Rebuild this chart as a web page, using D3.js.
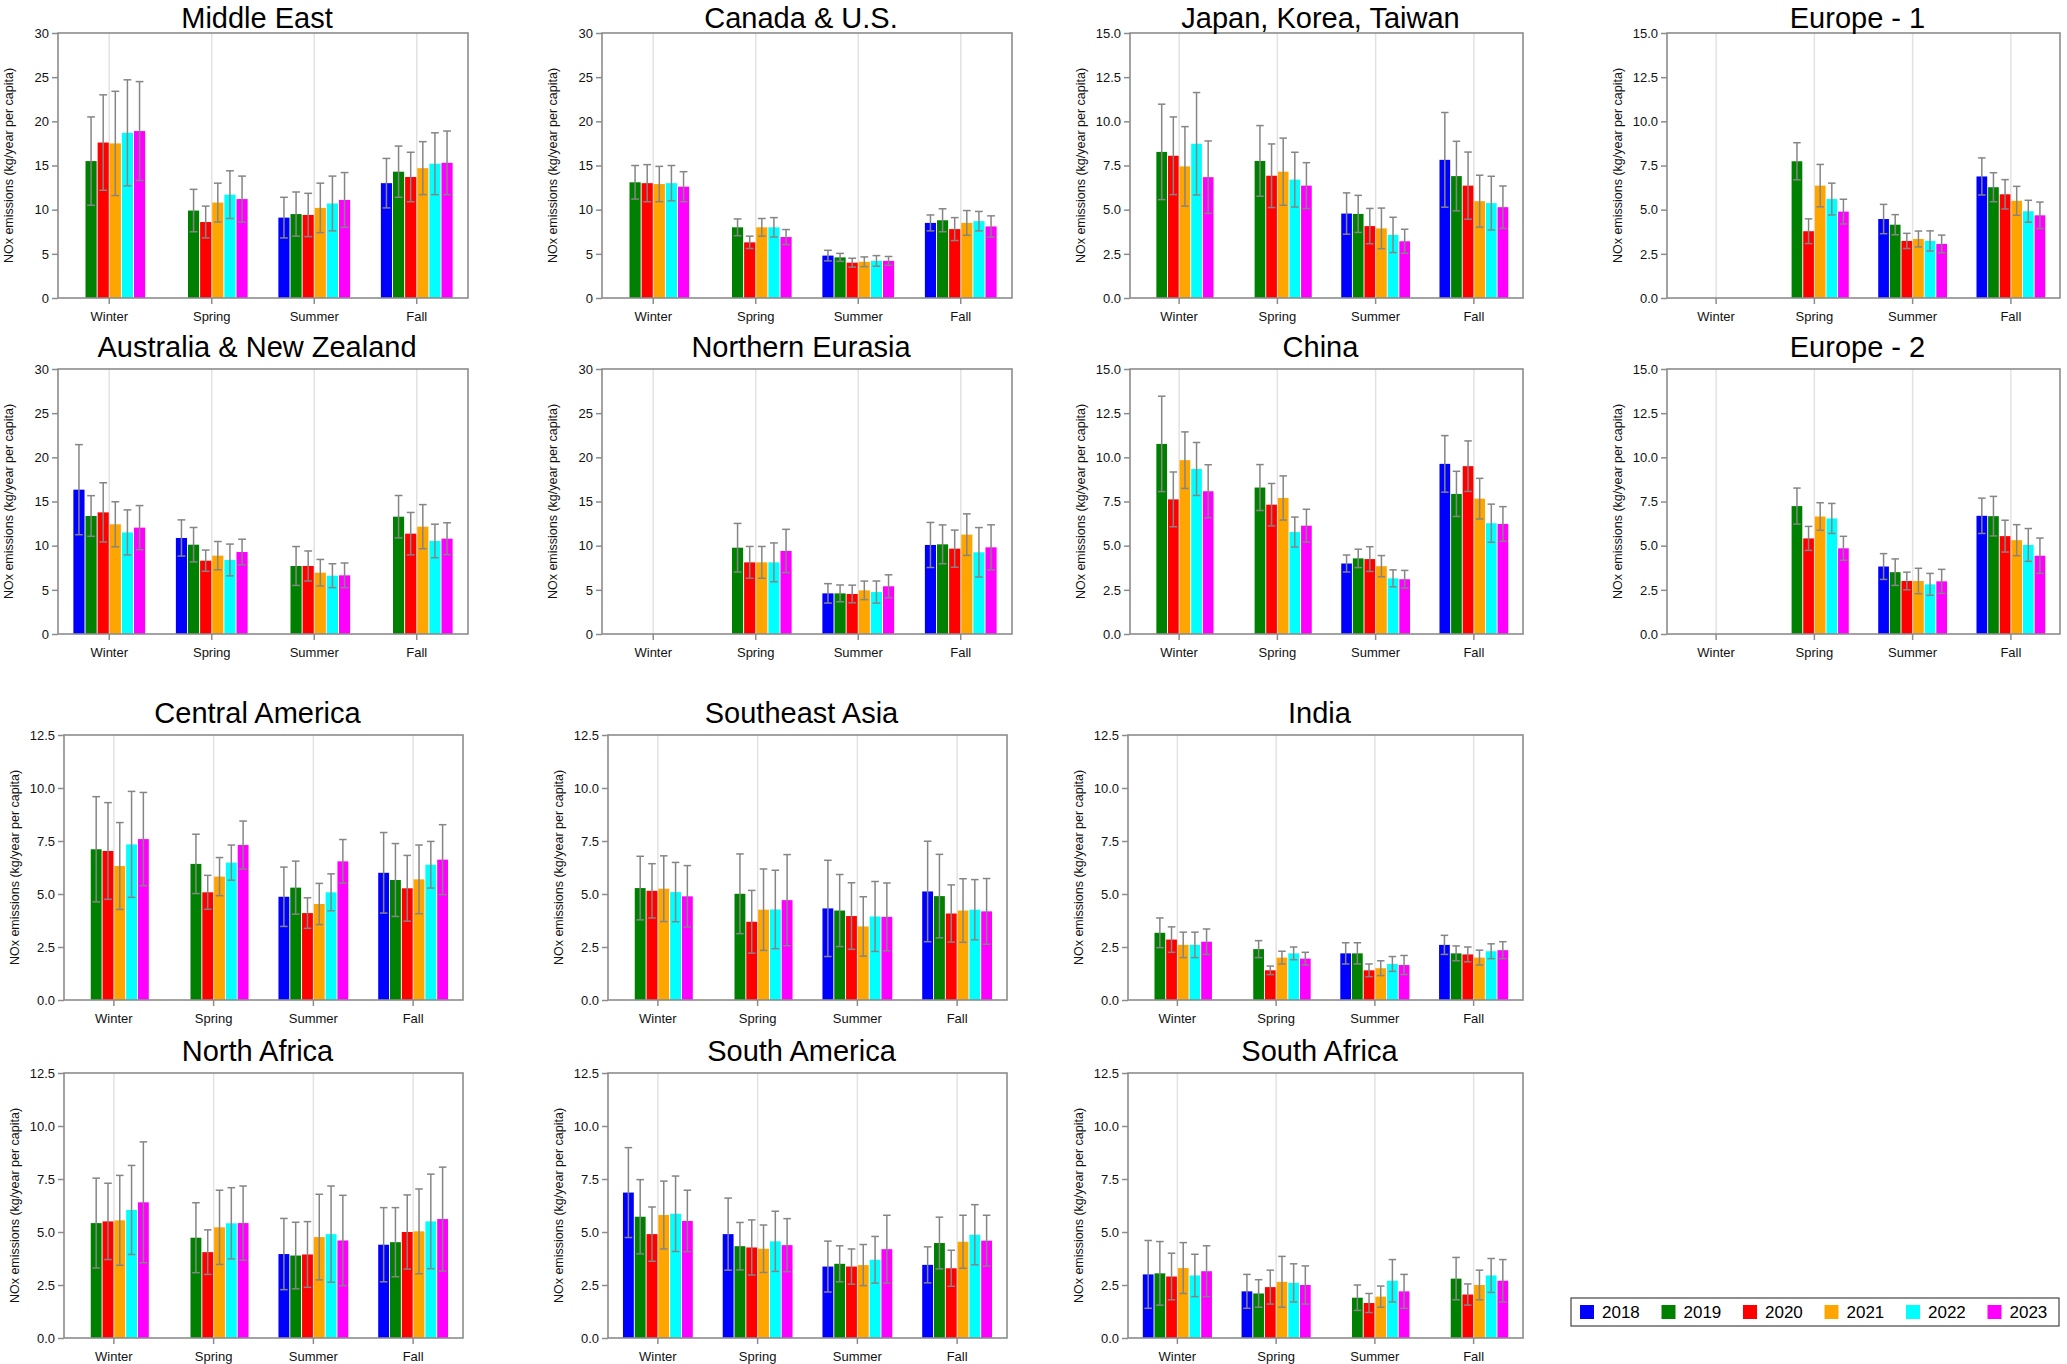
<!DOCTYPE html>
<html>
<head>
<meta charset="utf-8">
<script src="https://cdn.jsdelivr.net/npm/d3@7"></script>
<style>
body { margin: 0; background: #fff; }
svg { display: block; }
</style>
</head>
<body>
<svg width="2067" height="1364"></svg>
<script>
// categories
var years = ["2018", "2019", "2020", "2021", "2022", "2023"];
var seasons = ["Winter", "Spring", "Summer", "Fall"];
var yearColors = ["#0000ff", "#008000", "#ff0000", "#ffa500", "#00ffff", "#ff00ff"];

// means and error half-widths, rows = seasons, columns = years (null = no data)
var middleEastMean = [[null, 15.5, 17.6, 17.5, 18.7, 18.9], [null, 9.9, 8.6, 10.8, 11.7, 11.2], [9.1, 9.5, 9.4, 10.2, 10.7, 11.1], [13.0, 14.3, 13.7, 14.7, 15.2, 15.3]];
var middleEastErr = [[null, 5.0, 5.4, 5.9, 6.0, 5.6], [null, 2.4, 1.8, 2.2, 2.7, 2.6], [2.3, 2.5, 2.45, 2.8, 3.1, 3.1], [2.8, 2.9, 2.8, 3.0, 3.5, 3.6]];

var canadaUsMean = [[null, 13.1, 13.0, 12.9, 13.0, 12.6], [null, 8.0, 6.3, 8.0, 8.0, 6.9], [4.8, 4.6, 4.0, 4.1, 4.2, 4.2], [8.5, 8.8, 7.8, 8.5, 8.7, 8.1]];
var canadaUsErr = [[null, 1.9, 2.1, 2.0, 2.0, 1.7], [null, 0.95, 0.7, 1.0, 1.1, 0.85], [0.6, 0.45, 0.5, 0.55, 0.6, 0.5], [0.9, 1.3, 1.3, 1.4, 1.1, 1.2]];

var japanMean = [[null, 8.27, 8.05, 7.45, 8.73, 6.84], [null, 7.76, 6.92, 7.15, 6.7, 6.36], [4.78, 4.76, 4.07, 3.94, 3.57, 3.21], [7.82, 6.9, 6.36, 5.48, 5.37, 5.14]];
var japanErr = [[null, 2.7, 2.2, 2.25, 2.9, 2.05], [null, 2.0, 1.8, 1.9, 1.55, 1.3], [1.17, 1.05, 1.0, 1.15, 1.0, 0.68], [2.68, 1.97, 1.9, 1.47, 1.52, 1.2]];

var europe1Mean = [[null, null, null, null, null, null], [null, 7.74, 3.78, 6.36, 5.6, 4.89], [4.47, 4.15, 3.23, 3.34, 3.23, 3.06], [6.88, 6.27, 5.87, 5.5, 4.91, 4.68]];
var europe1Err = [[null, null, null, null, null, null], [null, 1.05, 0.7, 1.2, 0.9, 0.7], [0.83, 0.57, 0.43, 0.45, 0.57, 0.5], [1.05, 0.82, 0.83, 0.82, 0.62, 0.75]];

var australiaMean = [[16.34, 13.36, 13.77, 12.42, 11.5, 12.04], [10.87, 10.11, 8.3, 8.87, 8.38, 9.28], [null, 7.7, 7.7, 6.94, 6.6, 6.64], [null, 13.28, 11.36, 12.15, 10.53, 10.79]];
var australiaErr = [[5.1, 2.3, 3.35, 2.55, 2.55, 2.5], [2.05, 1.95, 1.2, 1.6, 1.8, 1.45], [null, 2.2, 1.7, 1.5, 1.35, 1.4], [null, 2.4, 2.4, 2.5, 1.9, 1.8]];

var nEurasiaMean = [[null, null, null, null, null, null], [null, 9.77, 8.11, 8.11, 8.11, 9.4], [4.6, 4.6, 4.53, 4.94, 4.75, 5.4], [10.08, 10.15, 9.66, 11.25, 9.25, 9.81]];
var nEurasiaErr = [[null, null, null, null, null, null], [null, 2.75, 1.8, 1.8, 2.2, 2.45], [1.1, 0.95, 1.0, 1.05, 1.25, 1.3], [2.55, 2.2, 2.1, 2.35, 2.8, 2.55]];

var chinaMean = [[null, 10.76, 7.62, 9.84, 9.34, 8.08], [null, 8.29, 7.32, 7.7, 5.77, 6.13], [3.99, 4.28, 4.24, 3.84, 3.15, 3.1], [9.63, 7.93, 9.5, 7.66, 6.27, 6.23]];
var chinaErr = [[null, 2.7, 1.55, 1.6, 1.5, 1.5], [null, 1.3, 1.2, 1.25, 0.85, 0.93], [0.48, 0.52, 0.7, 0.6, 0.48, 0.5], [1.6, 1.28, 1.43, 1.15, 1.08, 0.98]];

var europe2Mean = [[null, null, null, null, null, null], [null, 7.24, 5.41, 6.65, 6.54, 4.85], [3.82, 3.5, 3.0, 3.0, 2.81, 2.98], [6.69, 6.67, 5.54, 5.31, 5.04, 4.43]];
var europe2Err = [[null, null, null, null, null, null], [null, 1.02, 0.68, 0.78, 0.85, 0.68], [0.73, 0.75, 0.5, 0.72, 0.62, 0.68], [1.0, 1.12, 0.9, 0.88, 0.93, 1.0]];

var centralAmMean = [[null, 7.11, 7.03, 6.32, 7.34, 7.59], [null, 6.42, 5.08, 5.82, 6.48, 7.31], [4.87, 5.3, 4.1, 4.53, 5.08, 6.54], [6.0, 5.66, 5.27, 5.69, 6.38, 6.62]];
var centralAmErr = [[null, 2.48, 2.28, 2.05, 2.5, 2.2], [null, 1.4, 0.8, 0.9, 0.83, 1.13], [1.4, 1.25, 0.72, 0.97, 0.87, 1.03], [1.9, 1.72, 1.55, 1.62, 1.1, 1.65]];

var seAsiaMean = [[null, 5.28, 5.15, 5.25, 5.09, 4.89], [null, 5.01, 3.69, 4.26, 4.27, 4.71], [4.32, 4.22, 3.96, 3.47, 3.94, 3.92], [5.12, 4.9, 4.08, 4.22, 4.26, 4.18]];
var seAsiaErr = [[null, 1.5, 1.28, 1.55, 1.4, 1.45], [null, 1.88, 1.48, 1.92, 1.85, 2.15], [2.27, 1.7, 1.57, 1.4, 1.65, 1.6], [2.37, 1.97, 1.35, 1.5, 1.42, 1.55]];

var indiaMean = [[null, 3.17, 2.85, 2.6, 2.6, 2.75], [null, 2.4, 1.4, 2.0, 2.2, 1.95], [2.2, 2.2, 1.4, 1.5, 1.7, 1.65], [2.6, 2.2, 2.15, 2.0, 2.3, 2.35]];
var indiaErr = [[null, 0.7, 0.6, 0.6, 0.6, 0.6], [null, 0.4, 0.2, 0.3, 0.3, 0.3], [0.5, 0.5, 0.3, 0.35, 0.35, 0.45], [0.45, 0.35, 0.35, 0.35, 0.35, 0.4]];

var nAfricaMean = [[null, 5.42, 5.5, 5.55, 6.04, 6.4], [null, 4.73, 4.05, 5.22, 5.41, 5.42], [3.96, 3.89, 3.94, 4.76, 4.9, 4.6], [4.4, 4.52, 5.0, 5.03, 5.5, 5.61]];
var nAfricaErr = [[null, 2.12, 1.8, 2.12, 2.1, 2.85], [null, 1.65, 1.05, 1.75, 1.68, 1.75], [1.68, 1.57, 1.55, 2.02, 2.27, 2.13], [1.75, 1.63, 1.75, 2.0, 2.23, 2.45]];

var sAmericaMean = [[6.86, 5.72, 4.9, 5.8, 5.86, 5.52], [4.9, 4.33, 4.27, 4.21, 4.56, 4.38], [3.37, 3.5, 3.37, 3.44, 3.69, 4.19], [3.45, 4.48, 3.29, 4.54, 4.87, 4.59]];
var sAmericaErr = [[2.12, 1.75, 1.28, 1.6, 1.78, 1.45], [1.7, 1.12, 1.3, 1.12, 1.42, 1.25], [1.2, 0.85, 0.83, 0.97, 1.1, 1.6], [0.85, 1.22, 0.85, 1.25, 1.42, 1.2]];

var sAfricaMean = [[3.0, 3.05, 2.9, 3.3, 2.95, 3.15], [2.2, 2.1, 2.4, 2.65, 2.6, 2.5], [null, 1.9, 1.65, 1.95, 2.7, 2.2], [null, 2.8, 2.05, 2.5, 2.95, 2.7]];
var sAfricaErr = [[1.6, 1.5, 1.1, 1.2, 1.0, 1.2], [0.8, 0.65, 0.8, 1.2, 0.9, 0.9], [null, 0.6, 0.45, 0.5, 1.0, 0.8], [null, 1.0, 0.5, 0.7, 0.8, 1.0]];

var regionNames = ["Middle East", "Canada & U.S.", "Japan, Korea, Taiwan", "Europe - 1",
    "Australia & New Zealand", "Northern Eurasia", "China", "Europe - 2",
    "Central America", "Southeast Asia", "India",
    "North Africa", "South America", "South Africa"];
var regionYMax = [30, 30, 15, 15, 30, 30, 15, 15, 12.5, 12.5, 12.5, 12.5, 12.5, 12.5];
var regionMeans = [middleEastMean, canadaUsMean, japanMean, europe1Mean, australiaMean, nEurasiaMean, chinaMean, europe2Mean,
    centralAmMean, seAsiaMean, indiaMean, nAfricaMean, sAmericaMean, sAfricaMean];
var regionErrs = [middleEastErr, canadaUsErr, japanErr, europe1Err, australiaErr, nEurasiaErr, chinaErr, europe2Err,
    centralAmErr, seAsiaErr, indiaErr, nAfricaErr, sAmericaErr, sAfricaErr];

// layout of the panel grid
var slots = [[0, 0], [0, 1], [0, 2], [0, 3], [1, 0], [1, 1], [1, 2], [1, 3], [2, 0], [2, 1], [2, 2], [3, 0], [3, 1], [3, 2]];
var rowTop = [33, 369, 735, 1073];
var plotH = 265;
var colLeftTop = [58, 602, 1130, 1667], colWTop = [410, 410, 393, 393];
var colLeftBot = [64, 608, 1128], colWBot = [399, 399, 395];

var svg = d3.select("svg");
var axisFont = "'Liberation Sans', Arial, sans-serif";

regionNames.forEach(function (name, i) {
    var r = slots[i][0], c = slots[i][1];
    var left = r < 2 ? colLeftTop[c] : colLeftBot[c];
    var w = r < 2 ? colWTop[c] : colWBot[c];
    drawPanel(name, regionMeans[i], regionErrs[i], regionYMax[i], left, rowTop[r], w, plotH);
});

function drawPanel(name, means, errs, yMax, left, top, w, h) {
    var g = svg.append("g").attr("transform", "translate(" + left + "," + top + ")");

    var x = d3.scaleBand().domain(seasons).range([0, w]);
    var groupW = x.bandwidth() * 0.7;
    var xi = d3.scaleBand().domain(years).range([0, groupW]).paddingInner(0.08);
    var y = d3.scaleLinear().domain([0, yMax]).range([h, 0]);

    // vertical grid lines at each season
    g.selectAll(".grid").data(seasons).enter().append("line")
        .attr("x1", function (s) { return x(s) + x.bandwidth() / 2; })
        .attr("x2", function (s) { return x(s) + x.bandwidth() / 2; })
        .attr("y1", 0).attr("y2", h)
        .attr("stroke", "#e2e2e2").attr("stroke-width", 1.5);

    // flatten into bar records
    var rows = [];
    seasons.forEach(function (s, si) {
        years.forEach(function (yr, yi) {
            if (means[si][yi] != null) {
                rows.push({ season: s, year: yr, yi: yi, v: means[si][yi], e: errs[si][yi] });
            }
        });
    });

    var bx = function (d) { return x(d.season) + (x.bandwidth() - groupW) / 2 + xi(d.year); };

    g.selectAll(".bar").data(rows).enter().append("rect")
        .attr("x", bx)
        .attr("y", function (d) { return y(d.v); })
        .attr("width", xi.bandwidth())
        .attr("height", function (d) { return h - y(d.v); })
        .attr("fill", function (d) { return yearColors[d.yi]; });

    // error bars
    var cap = xi.bandwidth() * 0.35;
    var eb = g.selectAll(".err").data(rows).enter().append("g")
        .attr("stroke", "#858585").attr("stroke-width", 1.5);
    eb.append("line")
        .attr("x1", function (d) { return bx(d) + xi.bandwidth() / 2; })
        .attr("x2", function (d) { return bx(d) + xi.bandwidth() / 2; })
        .attr("y1", function (d) { return y(d.v + d.e); })
        .attr("y2", function (d) { return y(d.v - d.e); });
    [1, -1].forEach(function (sign) {
        eb.append("line")
            .attr("x1", function (d) { return bx(d) + xi.bandwidth() / 2 - cap; })
            .attr("x2", function (d) { return bx(d) + xi.bandwidth() / 2 + cap; })
            .attr("y1", function (d) { return y(d.v + sign * d.e); })
            .attr("y2", function (d) { return y(d.v + sign * d.e); });
    });

    // frame
    g.append("rect").attr("width", w).attr("height", h)
        .attr("fill", "none").attr("stroke", "#8c8c8c").attr("stroke-width", 1.6);

    // axes
    var step = yMax === 30 ? 5 : 2.5;
    var yAxis = d3.axisLeft(y)
        .tickValues(d3.range(0, yMax + 0.001, step))
        .tickFormat(d3.format(yMax === 30 ? "d" : ".1f"))
        .tickSize(6).tickPadding(3);
    var ya = g.append("g").call(yAxis);
    var xa = g.append("g").attr("transform", "translate(0," + h + ")")
        .call(d3.axisBottom(x).tickSize(6).tickSizeOuter(0).tickPadding(8));
    [ya, xa].forEach(function (a) {
        a.select(".domain").remove();
        a.selectAll(".tick line").attr("stroke", "#8c8c8c").attr("stroke-width", 1.5);
        a.selectAll("text").attr("fill", "#111").style("font-family", axisFont).style("font-size", "13px");
    });

    // y label
    g.append("text")
        .attr("transform", "translate(-49," + (h / 2) + ") rotate(-90)")
        .attr("text-anchor", "middle")
        .attr("dy", "0.35em")
        .style("font-family", axisFont).style("font-size", "12.5px").attr("fill", "#111")
        .text("NOx emissions (kg/year per capita)");

    // title (kept inside the page at the top row)
    g.append("text")
        .attr("x", w / 2 - 6).attr("y", Math.max(-12, 28 - top))
        .attr("text-anchor", "middle")
        .style("font-family", axisFont).style("font-size", "29px")
        .attr("fill", "#000")
        .text(name);
}

// legend
var leg = svg.append("g").attr("transform", "translate(1571,1298)");
leg.append("rect").attr("width", 488).attr("height", 28)
    .attr("fill", "#fff").attr("stroke", "#444").attr("stroke-width", 1.2);
var li = leg.selectAll(".li").data(years).enter().append("g")
    .attr("transform", function (d, i) { return "translate(" + (9 + i * 81.5) + ",0)"; });
li.append("rect").attr("y", 7).attr("width", 14).attr("height", 14)
    .attr("fill", function (d, i) { return yearColors[i]; });
li.append("text").attr("x", 22).attr("y", 20)
    .style("font-family", axisFont).style("font-size", "17px").attr("fill", "#000")
    .text(function (d) { return d; });
</script>
</body>
</html>
